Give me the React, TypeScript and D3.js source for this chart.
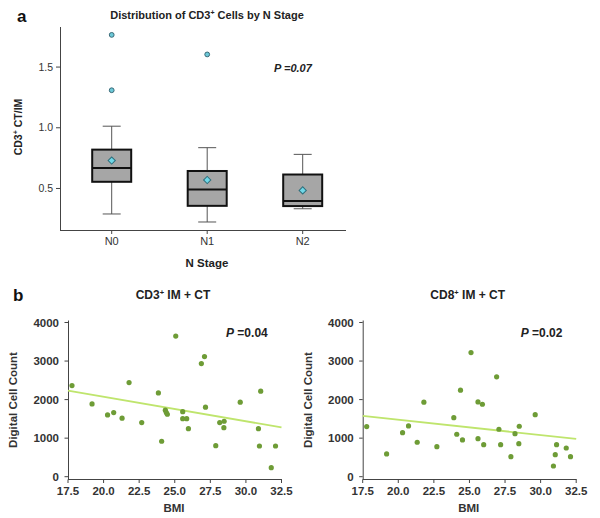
import React from "react";
import * as d3 from "d3";

// Panel a: box plot data
const stages = ["N0", "N1", "N2"];
const q1 = [0.555, 0.357, 0.355];
const medians = [0.669, 0.492, 0.396];
const q3 = [0.82, 0.644, 0.615];
const whiskerLow = [0.29, 0.224, 0.333];
const whiskerHigh = [1.013, 0.836, 0.781];
const means = [0.73, 0.57, 0.484];
const outlierStage = ["N0", "N0", "N1"];
const outlierValue = [1.765, 1.309, 1.604];
const boxTicks = [0.5, 1.0, 1.5];

// Panel b: scatter data
const cd3Bmi = [17.78, 19.19, 20.28, 20.71, 21.3, 21.79, 22.68, 23.85, 24.08, 24.34, 24.41, 24.48, 25.07, 25.56, 25.56, 25.84, 25.96, 26.87, 27.09, 27.16, 27.88, 28.16, 28.45, 28.47, 29.6, 30.88, 30.95, 31.04, 32.08, 31.78];
const cd3Count = [2364, 1888, 1602, 1663, 1517, 2442, 1403, 2174, 919, 1725, 1663, 1620, 3647, 1688, 1506, 1506, 1247, 2935, 3117, 1803, 805, 1403, 1273, 1439, 1932, 1247, 797, 2218, 797, 234];
const cd3Fit = [2230, 1280];

const cd8Bmi = [17.78, 19.18, 20.3, 20.72, 21.33, 21.8, 22.71, 23.9, 24.11, 24.37, 24.51, 25.11, 25.6, 25.6, 25.91, 26.0, 26.91, 27.07, 27.19, 27.91, 28.2, 28.47, 28.5, 29.62, 31.03, 31.12, 31.8, 32.1, 30.9];
const cd8Count = [1299, 590, 1143, 1317, 893, 1932, 779, 1532, 1101, 2244, 953, 3221, 1940, 987, 1880, 831, 2590, 1231, 831, 519, 1117, 857, 1309, 1610, 571, 831, 745, 519, 278];
const cd8Fit = [1580, 980];

const fitBmi = [17.5, 32.5];
const bmiTicks = [17.5, 20.0, 22.5, 25.0, 27.5, 30.0, 32.5];
const countTicks = [0, 1000, 2000, 3000, 4000];

const FONT = "'Liberation Sans', Arial, sans-serif";
const AX = "#444";

function BoxPanel() {
  const y = d3.scaleLinear().domain([0.158, 1.83]).range([230, 27]);
  const x = d3.scalePoint<string>().domain(stages).range([111.7, 302.7]);
  const bw = 39;
  const cap = 18;
  const diamond = d3.symbol().type(d3.symbolSquare).size(26)();
  return (
    <g fontFamily={FONT}>
      <text x={17} y={22} fontSize={17} fontWeight="bold" fill="#111">a</text>
      <text x={207} y={19} fontSize={11} fontWeight="bold" textAnchor="middle" fill="#222">
        Distribution of CD3<tspan fontSize={7} dy={-4}>+</tspan><tspan dy={4}> Cells by N Stage</tspan>
      </text>
      {/* axes */}
      <line x1={60.5} x2={60.5} y1={27} y2={230} stroke={AX} />
      <line x1={60} x2={346} y1={230.5} y2={230.5} stroke={AX} />
      {boxTicks.map((t) => (
        <g key={t}>
          <line x1={56} x2={60.5} y1={y(t)} y2={y(t)} stroke={AX} />
          <text x={53} y={y(t) + 3.5} fontSize={10.5} textAnchor="end" fill="#333">{d3.format(".1f")(t)}</text>
        </g>
      ))}
      {stages.map((s) => (
        <g key={s}>
          <line x1={x(s)} x2={x(s)} y1={230.5} y2={234} stroke={AX} />
          <text x={x(s)} y={244.5} fontSize={11} textAnchor="middle" fill="#333">{s}</text>
        </g>
      ))}
      <text x={207} y={266.5} fontSize={11.5} fontWeight="bold" textAnchor="middle" fill="#222">N Stage</text>
      <text transform="translate(22,127) rotate(-90)" fontSize={10.5} fontWeight="bold" textAnchor="middle" fill="#222">
        CD3<tspan fontSize={7} dy={-4}>+</tspan><tspan dy={4}> CT/IM</tspan>
      </text>
      <text x={274} y={71.5} fontSize={11} fontWeight="bold" fontStyle="italic" fill="#222">P =0.07</text>
      {stages.map((s, i) => {
        const cx = x(s)!;
        return (
          <g key={s}>
            <line x1={cx} x2={cx} y1={y(whiskerHigh[i])} y2={y(q3[i])} stroke="#555" />
            <line x1={cx} x2={cx} y1={y(q1[i])} y2={y(whiskerLow[i])} stroke="#555" />
            <line x1={cx - cap / 2} x2={cx + cap / 2} y1={y(whiskerHigh[i])} y2={y(whiskerHigh[i])} stroke="#555" />
            <line x1={cx - cap / 2} x2={cx + cap / 2} y1={y(whiskerLow[i])} y2={y(whiskerLow[i])} stroke="#555" />
            <rect x={cx - bw / 2} y={y(q3[i])} width={bw} height={y(q1[i]) - y(q3[i])} fill="#a6a6a6" stroke="#111" strokeWidth={2} />
            <line x1={cx - bw / 2} x2={cx + bw / 2} y1={y(medians[i])} y2={y(medians[i])} stroke="#111" strokeWidth={2} />
            <path d={diamond!} transform={`translate(${cx},${y(means[i])}) rotate(45)`} fill="#6fd8e8" stroke="#2f6f7c" strokeWidth={1} />
          </g>
        );
      })}
      {outlierValue.map((v, i) => (
        <circle key={i} cx={x(outlierStage[i])} cy={y(v)} r={2.4} fill="#6cc9d8" stroke="#3a6a78" strokeWidth={1} />
      ))}
    </g>
  );
}

function Scatter({ left, title, bmi, count, fit, p }: { left: number; title: string; bmi: number[]; count: number[]; fit: number[]; p: string }) {
  const x = d3.scaleLinear().domain([17.5, 32.5]).range([left, left + 213.5]);
  const y = d3.scaleLinear().domain([0, 4000]).range([476.7, 322.5]);
  const axisY = 479.5;
  const line = d3.line<number>().x((d) => x(d)).y((d, i) => y(fit[i]));
  const cx = left + 105;
  return (
    <g fontFamily={FONT}>
      <text x={cx} y={299} fontSize={12} textAnchor="middle" fill="#222" fontWeight="bold">
        {title.split("+")[0]}<tspan fontSize={7.5} dy={-4.5}>+</tspan><tspan dy={4.5}>{title.slice(title.indexOf("+") + 1)}</tspan>
      </text>
      <line x1={left + 0.5} x2={left + 0.5} y1={320.5} y2={axisY} stroke={AX} />
      <line x1={left} x2={left + 214} y1={axisY} y2={axisY} stroke={AX} />
      {countTicks.map((t) => (
        <g key={t}>
          <line x1={left - 3.5} x2={left} y1={y(t)} y2={y(t)} stroke={AX} />
          <text x={left - 9} y={y(t) + 4} fontSize={11.5} fontWeight="bold" textAnchor="end" fill="#333">{t}</text>
        </g>
      ))}
      {bmiTicks.map((t) => (
        <g key={t}>
          <line x1={x(t)} x2={x(t)} y1={axisY} y2={axisY + 3.5} stroke={AX} />
          <text x={x(t)} y={495} fontSize={11.5} fontWeight="bold" textAnchor="middle" fill="#333">{d3.format(".1f")(t)}</text>
        </g>
      ))}
      <text x={left + 106} y={512} fontSize={11.5} fontWeight="bold" textAnchor="middle" fill="#333">BMI</text>
      <text transform={`translate(${left - 51},400) rotate(-90)`} fontSize={11.5} fontWeight="bold" textAnchor="middle" fill="#333">Digital Cell Count</text>
      <path d={line(fitBmi)!} stroke="#bfe56d" strokeWidth={1.8} fill="none" />
      {bmi.map((b, i) => (
        <circle key={i} cx={x(b)} cy={y(count[i])} r={2.6} fill="#6e9c36" />
      ))}
      <text x={left + 158} y={337} fontSize={12} fontWeight="bold" fill="#222">
        <tspan fontStyle="italic">P</tspan> =0.{p}
      </text>
    </g>
  );
}

export default function App() {
  return (
    <svg width={600} height={518} style={{ position: "absolute", left: 0, top: 0, background: "#fff" }}>
      <BoxPanel />
      <text x={13} y={301} fontSize={17} fontWeight="bold" fill="#111" fontFamily={FONT}>b</text>
      <Scatter left={68} title="CD3+ IM + CT" bmi={cd3Bmi} count={cd3Count} fit={cd3Fit} p="04" />
      <Scatter left={362.7} title="CD8+ IM + CT" bmi={cd8Bmi} count={cd8Count} fit={cd8Fit} p="02" />
    </svg>
  );
}
